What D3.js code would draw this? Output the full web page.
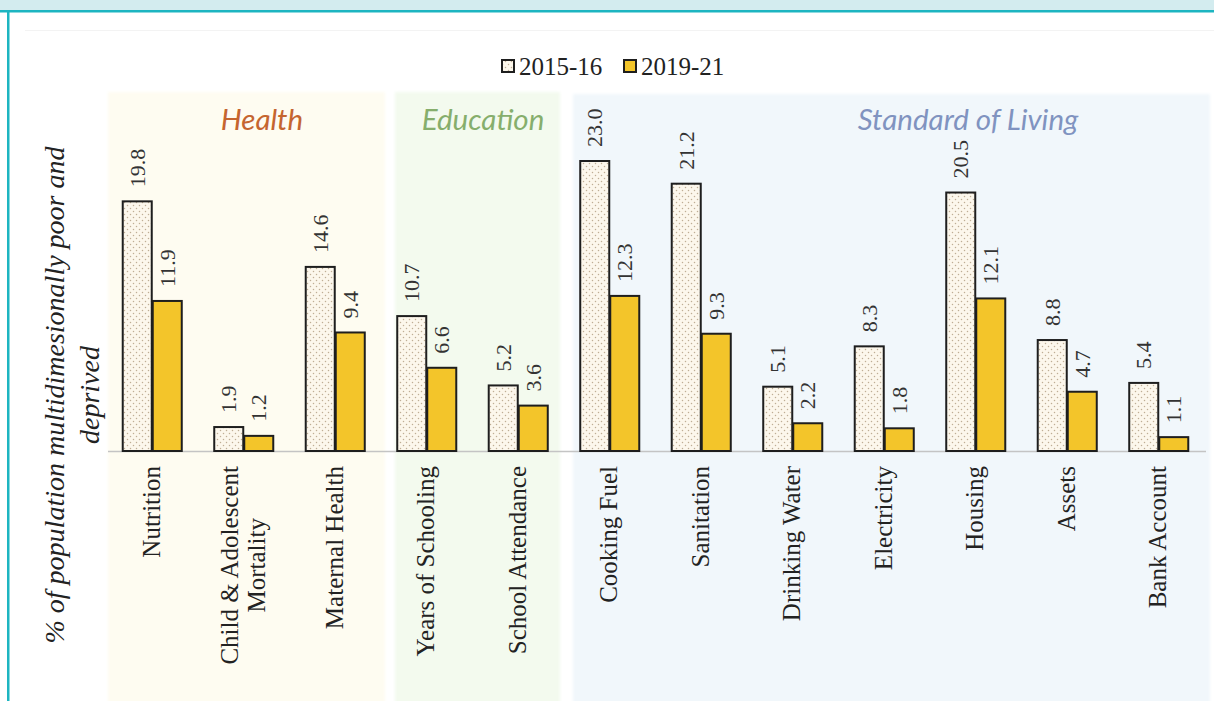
<!DOCTYPE html>
<html><head><meta charset="utf-8">
<script src="https://cdn.jsdelivr.net/npm/d3@7"></script>
<style>html,body{margin:0;padding:0;background:#fff;}svg{display:block;}</style>
</head><body>
<svg id="c" width="1214" height="701"></svg>
<script>
const categories = [["Nutrition"],["Child & Adolescent","Mortality"],["Maternal Health"],["Years of Schooling"],["School Attendance"],["Cooking Fuel"],["Sanitation"],["Drinking Water"],["Electricity"],["Housing"],["Assets"],["Bank Account"]];
const seriesNames = ["2015-16","2019-21"];
const values2015 = [19.8,1.9,14.6,10.7,5.2,23.0,21.2,5.1,8.3,20.5,8.8,5.4];
const values2019 = [11.9,1.2,9.4,6.6,3.6,12.3,9.3,2.2,1.8,12.1,4.7,1.1];
const groups = [
  {name:"Health", from:0, to:2, bg:"#fefcf1", color:"#c5652f"},
  {name:"Education", from:3, to:4, bg:"#f3faee", color:"#86ae6c"},
  {name:"Standard of Living", from:5, to:11, bg:"#f1f7fb", color:"#8093c0"}
];
const yTitle = ["% of population multidimesionally poor and","deprived"];

const svg = d3.select("#c");
const keys = categories.map(c=>c.join(" "));
const x = d3.scaleBand().domain(keys).range([106,1204]).paddingInner(0.344).paddingOuter(0.172);
const x1 = d3.scaleBand().domain(seriesNames).range([0,x.bandwidth()]);
const y = d3.scaleLinear().domain([0,23]).range([451,161]);

// frame
svg.append("rect").attr("x",0).attr("y",0).attr("width",1214).attr("height",10).attr("fill","#d3ecef");
svg.append("rect").attr("x",0).attr("y",10).attr("width",1214).attr("height",2.5).attr("fill","#1db5c1");
svg.append("rect").attr("x",7).attr("y",10).attr("width",2.5).attr("height",691).attr("fill","#1db5c1");
svg.append("line").attr("x1",25).attr("x2",1214).attr("y1",30.5).attr("y2",30.5).attr("stroke","#f3f3f3");

// pattern
const defs = svg.append("defs");
const pat = defs.append("pattern").attr("id","dots").attr("patternUnits","userSpaceOnUse").attr("width",6).attr("height",6);
pat.append("rect").attr("width",6).attr("height",6).attr("fill","#fcf7ec");
pat.append("circle").attr("cx",1.5).attr("cy",1.5).attr("r",0.75).attr("fill","#bfae95");
pat.append("circle").attr("cx",4.5).attr("cy",4.5).attr("r",0.75).attr("fill","#bfae95");
const blur = defs.append("filter").attr("id","soft").attr("x","-5%").attr("y","-5%").attr("width","110%").attr("height","110%");
blur.append("feGaussianBlur").attr("stdDeviation",1.5);

// group panels
const panelBounds = [[108,385,92],[395,560,92],[573,1210,94]];
const titleCenters = [262,483,968];
groups.forEach((g,i)=>{
  const b = panelBounds[i];
  svg.append("rect").attr("x",b[0]).attr("y",b[2]).attr("width",b[1]-b[0]).attr("height",701-b[2]+10)
    .attr("fill",g.bg).attr("filter","url(#soft)");
  svg.append("text").attr("x",titleCenters[i]).attr("y",130)
    .attr("text-anchor","middle").attr("font-family","Lato, 'Open Sans', sans-serif").attr("font-style","italic")
    .attr("font-size",29.5).attr("fill",g.color).text(g.name);
});

// baseline
svg.append("line").attr("x1",108).attr("x2",1206).attr("y1",451.5).attr("y2",451.5).attr("stroke","#c4c4c4").attr("stroke-width",1.5);

// bars
const data = keys.map((k,i)=>({k, vals:[values2015[i],values2019[i]]}));
const fills = ["url(#dots)","#f3c52a"];
const gBars = svg.append("g");
data.forEach(d=>{
  d.vals.forEach((v,j)=>{
    const bx = x(d.k)+x1(seriesNames[j]);
    gBars.append("rect").attr("x",bx+1).attr("y",y(v)).attr("width",x1.bandwidth()-1).attr("height",y(0)-y(v))
      .attr("fill",fills[j]).attr("stroke","#1e1e1e").attr("stroke-width",2);
    const cx = bx + x1.bandwidth()/2 + 1;
    gBars.append("text").attr("transform",`translate(${cx+7},${y(v)-14}) rotate(-90)`)
      .attr("text-anchor","start").attr("font-family","'Liberation Serif', 'Times New Roman', serif")
      .attr("font-size",22).attr("fill","#333").text(v.toFixed(1));
  });
});

// category labels
categories.forEach((lines,i)=>{
  const cx = x(keys[i]) + x.bandwidth()/2;
  const t = svg.append("text").attr("font-family","'Liberation Serif', 'Times New Roman', serif")
    .attr("font-size",25).attr("fill","#222").attr("text-anchor","middle");
  lines.forEach((l,j)=>{
    t.append("tspan").attr("x",0).attr("dy", j===0?0:27).text(l);
  });
  let maxLen = 0;
  t.selectAll("tspan").each(function(){maxLen=Math.max(maxLen,this.getComputedTextLength());});
  const offset = 8 - (lines.length-1)*13.5;
  t.attr("transform",`translate(${cx+offset},${466+maxLen/2}) rotate(-90)`);
});

// legend
const leg = svg.append("g").attr("font-family","'Liberation Serif', 'Times New Roman', serif").attr("font-size",25).attr("fill","#222");
const legX = [502,624];
seriesNames.forEach((s,i)=>{
  leg.append("rect").attr("x",legX[i]).attr("y",60).attr("width",12).attr("height",12)
    .attr("fill",fills[i]).attr("stroke","#1e1e1e").attr("stroke-width",2);
  leg.append("text").attr("x",legX[i]+17).attr("y",75).text(s);
});

// y title
const yt = svg.append("text").attr("font-family","'Liberation Serif', 'Times New Roman', serif").attr("font-style","italic")
  .attr("font-size",28).attr("fill","#222").attr("text-anchor","middle");
yt.append("tspan").attr("x",0).attr("y",0).text(yTitle[0]);
yt.append("tspan").attr("x",0).attr("y",35).text(yTitle[1]);
yt.attr("transform","translate(64,395) rotate(-90)");
</script>
</body></html>
